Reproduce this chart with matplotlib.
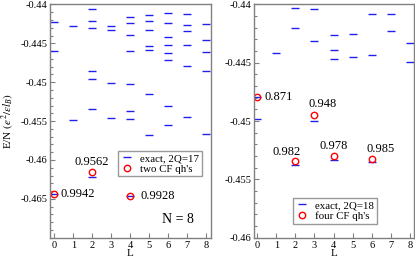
import matplotlib
matplotlib.use("Agg")
import matplotlib.pyplot as plt
from matplotlib.ticker import FixedLocator, FixedFormatter, MultipleLocator

plt.rcParams['font.family'] = ['Liberation Serif', 'DejaVu Serif']
plt.rcParams['mathtext.fontset'] = 'stix'
plt.rcParams['axes.unicode_minus'] = False

# left panel: N = 8, 2Q = 17, exact spectrum (L, E/N)
exact17_L = [0, 0, 0,
             1, 1,
             2, 2, 2, 2, 2, 2, 2,
             3, 3, 3, 3,
             4, 4, 4, 4, 4, 4, 4, 4,
             5, 5, 5, 5, 5, 5, 5,
             6, 6, 6, 6, 6, 6, 6, 6,
             7, 7, 7, 7, 7, 7,
             8, 8, 8, 8, 8]
exact17_E = [-0.44231, -0.44595, -0.46432,
             -0.44278, -0.45492,
             -0.44064, -0.44218, -0.44304, -0.44859, -0.44958, -0.45346, -0.46218,
             -0.44274, -0.44334, -0.45013, -0.45454,
             -0.44163, -0.44236, -0.44397, -0.44603, -0.45022, -0.45372, -0.45474, -0.46458,
             -0.44141, -0.44210, -0.44334, -0.44538, -0.44590, -0.45154, -0.45674,
             -0.44115, -0.44236, -0.44415, -0.44522, -0.44628, -0.44718, -0.45300, -0.45555,
             -0.44128, -0.44262, -0.44342, -0.44526, -0.44795, -0.45449,
             -0.44257, -0.44462, -0.44615, -0.44859, -0.45663]
cf2_L = [0, 2, 4]
cf2_E = [-0.46432, -0.46154, -0.46458]
cf2_overlap = ["0.9942", "0.9562", "0.9928"]

# right panel: 2Q = 18
exact18_L = [0, 0,
             1,
             2, 2, 2,
             3, 3, 3,
             4, 4, 4, 4,
             5, 5,
             6, 6, 6,
             7, 7,
             8, 8]
exact18_E = [-0.44795, -0.44981,
             -0.44417,
             -0.44032, -0.44201, -0.45377,
             -0.44043, -0.44313, -0.44996,
             -0.44258, -0.44393, -0.44465, -0.45331,
             -0.44250, -0.44454,
             -0.44078, -0.44436, -0.45351,
             -0.44086, -0.44230,
             -0.44330, -0.44497]
cf4_L = [0, 2, 3, 4, 6]
cf4_E = [-0.44795, -0.45346, -0.44947, -0.45296, -0.45325]
cf4_overlap = ["0.871", "0.982", "0.948", "0.978", "0.985"]

left_ticks = [-0.44, -0.445, -0.45, -0.455, -0.46, -0.465]
left_ticklabels = ["-0.44", "-0.445", "-0.45", "-0.455", "-0.46", "-0.465"]
right_ticks = [-0.44, -0.445, -0.45, -0.455, -0.46]
right_ticklabels = ["-0.44", "-0.445", "-0.45", "-0.455", "-0.46"]

fig = plt.figure(figsize=(4.15, 2.59), dpi=100)
ax1 = fig.add_axes([0.121, 0.082, 0.387, 0.901])
ax2 = fig.add_axes([0.612, 0.082, 0.385, 0.901])

blue = '#2020ee'
red = '#ff0000'
gray = '#808080'


def style(ax, ticks, labels):
    for s in ax.spines.values():
        s.set_color(gray)
        s.set_linewidth(1.0)
    ax.yaxis.set_major_locator(FixedLocator(ticks))
    ax.yaxis.set_major_formatter(FixedFormatter(labels))
    ax.yaxis.set_minor_locator(MultipleLocator(0.001))
    ax.set_xticks(range(9))
    ax.tick_params(which='both', direction='in', top=False, right=False,
                   color=gray, labelsize=7.5, pad=2)
    ax.tick_params(which='major', length=3.6, width=0.8)
    ax.tick_params(which='minor', length=2.0, width=0.8)
    ax.set_xlabel('L', fontsize=8, labelpad=-0.5)


# left
ax1.plot(exact17_L, exact17_E, ls='none', marker='_', ms=5.5, mew=1.0,
         color=blue, label='exact, 2Q=17')
ax1.plot(cf2_L, cf2_E, ls='none', marker='o', ms=4.6, mew=1.0, mfc='none',
         mec=red, label="two CF qh's")
offs1 = [(4.5, 0), (-0.7, 7), (7, 0)]
has1 = ['left', 'center', 'left']
for L, E, t, o, h in zip(cf2_L, cf2_E, cf2_overlap, offs1, has1):
    ax1.annotate(t, (L, E), xytext=o, textcoords='offset points',
                 ha=h, va='center', fontsize=9)
ax1.set_xlim(-0.22, 8.24)
ax1.set_ylim(-0.47, -0.44)
style(ax1, left_ticks, left_ticklabels)
ax1.set_ylabel(r'E/N $(e^2/\epsilon l_B)$', fontsize=8)
ax1.yaxis.set_label_coords(-0.215, 0.5)
ax1.text(0.798, 0.08, 'N = 8', transform=ax1.transAxes, ha='center',
         va='center', fontsize=10)
leg1 = ax1.legend(loc='upper right', bbox_to_anchor=(0.942, 0.373),
                  borderaxespad=0, fontsize=7.8, frameon=True, fancybox=False,
                  borderpad=0.25, labelspacing=0.1, handlelength=1.2,
                  handletextpad=0.6)
leg1.get_frame().set_edgecolor(gray)
leg1.get_frame().set_linewidth(1.0)

# right
ax2.plot(exact18_L, exact18_E, ls='none', marker='_', ms=5.5, mew=1.0,
         color=blue, label='exact, 2Q=18')
ax2.plot(cf4_L, cf4_E, ls='none', marker='o', ms=4.6, mew=1.0, mfc='none',
         mec=red, label="four CF qh's")
offs2 = [(5.5, 0), (-6.3, 6.7), (6, 8), (0, 7.2), (6.7, 7.4)]
for L, E, t, o in zip(cf4_L, cf4_E, cf4_overlap, offs2):
    ha = 'left' if L == 0 else 'center'
    ax2.annotate(t, (L, E), xytext=o, textcoords='offset points',
                 ha=ha, va='center', fontsize=9)
ax2.set_xlim(-0.17, 8.2)
ax2.set_ylim(-0.46, -0.44)
style(ax2, right_ticks, right_ticklabels)
leg2 = ax2.legend(loc='upper right', bbox_to_anchor=(0.768, 0.171),
                  borderaxespad=0, fontsize=7.8, frameon=True, fancybox=False,
                  borderpad=0.25, labelspacing=0.1, handlelength=1.2,
                  handletextpad=0.6)
leg2.get_frame().set_edgecolor(gray)
leg2.get_frame().set_linewidth(1.0)

fig.savefig('out.png', dpi=100)
